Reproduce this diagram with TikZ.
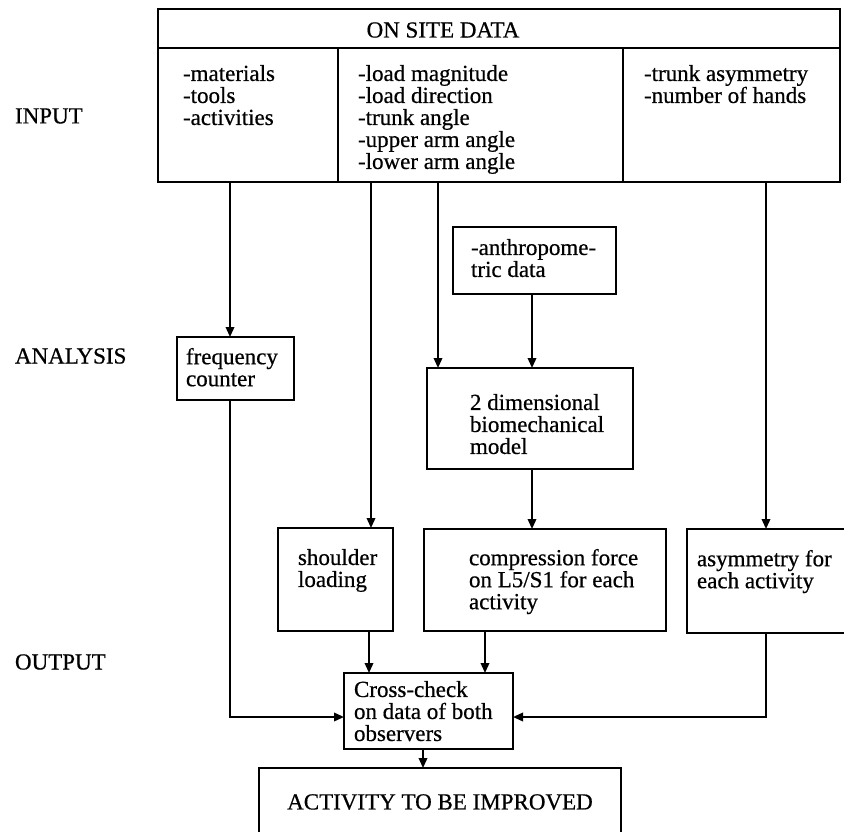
\documentclass[tikz,border=0pt]{standalone}
\usepackage{fontspec}
\setmainfont{Liberation Serif}[FakeBold=0.6]
\usetikzlibrary{arrows.meta}
\begin{document}
\begin{tikzpicture}[x=1pt,y=-1pt,
  every node/.style={font=\fontsize{23}{22}\selectfont, inner sep=0pt, outer sep=0pt},
  box/.style={draw, line width=1.9pt, rectangle, anchor=north west},
  txt/.style={anchor=north west, align=left},
  lbl/.style={anchor=west},
  arr/.style={line width=1.9pt, -{Triangle[length=10pt,width=8.5pt]}}]
\useasboundingbox (0,0) rectangle (844,832);

% lanes of the vertical connectors
\coordinate (xa) at (230,0);
\coordinate (xb) at (371,0);
\coordinate (xc) at (438,0);
\coordinate (xd) at (766,0);
\coordinate (xe) at (532,0);
\coordinate (xf) at (369,0);
\coordinate (xg) at (485,0);
\coordinate (xh) at (423,0);
\coordinate (ya) at (0,717);

% on-site data block
\node[box, minimum width=682pt, minimum height=39pt] (hdr) at (158,9) {};
\node[box, minimum width=180pt, minimum height=134pt] (c1) at (158,48) {};
\node[box, minimum width=285pt, minimum height=134pt] (c2) at (338,48) {};
\node[box, minimum width=217pt, minimum height=134pt] (c3) at (623,48) {};
\node (hdrt) at (443,30) {ON SITE DATA};
\node[txt] (c1t) at (183,65) {-materials\\-tools\\-activities};
\node[txt] (c2t) at (358,65) {-load magnitude\\-load direction\\-trunk angle\\-upper arm angle\\-lower arm angle};
\node[txt] (c3t) at (644,65) {-trunk asymmetry\\-number of hands};

% row labels
\node[lbl] (lin) at (15,116) {INPUT};
\node[lbl] (lan) at (15,356) {ANALYSIS};
\node[lbl] (lout) at (15,662) {OUTPUT};

% analysis
\node[box, minimum width=163pt, minimum height=67pt] (anth) at (453,227) {};
\node[txt] (antht) at (471,239) {-anthropome-\\tric data};
\node[box, minimum width=117pt, minimum height=63pt] (freq) at (177,337) {};
\node[txt] (freqt) at (186,348) {frequency\\counter};
\node[box, minimum width=206pt, minimum height=101pt] (model) at (427,368) {};
\node[txt] (modelt) at (470,394) {2 dimensional\\biomechanical\\model};

% output
\node[box, minimum width=115pt, minimum height=103pt] (shoulder) at (278,528) {};
\node[txt] (shouldert) at (298,549) {shoulder\\loading};
\node[box, minimum width=242pt, minimum height=102pt] (comp) at (424,529) {};
\node[txt] (compt) at (469,549) {compression force\\on L5/S1 for each\\activity};
\node[box, minimum width=161pt, minimum height=104pt] (asym) at (687,529) {};
\node[txt] (asymt) at (697,550) {asymmetry for\\each activity};
\node[box, minimum width=169pt, minimum height=76pt] (cross) at (344,673) {};
\node[txt] (crosst) at (354,681) {Cross-check\\on data of both\\observers};
\node[box, minimum width=362pt, minimum height=80pt] (act) at (259,768) {};
\node (actt) at (440,802) {ACTIVITY TO BE IMPROVED};

% connectors
\draw[arr] (c1.south -| xa) -- (freq.north -| xa);
\draw[arr] (c2.south -| xb) -- (shoulder.north -| xb);
\draw[arr] (c2.south -| xc) -- (model.north -| xc);
\draw[arr] (c3.south -| xd) -- (asym.north -| xd);
\draw[arr] (anth.south -| xe) -- (model.north -| xe);
\draw[arr] (model.south -| xe) -- (comp.north -| xe);
\draw[arr] (freq.south -| xa) |- (cross.west |- ya);
\draw[arr] (shoulder.south -| xf) -- (cross.north -| xf);
\draw[arr] (comp.south -| xg) -- (cross.north -| xg);
\draw[arr] (asym.south -| xd) |- (cross.east |- ya);
\draw[arr] (cross.south -| xh) -- (act.north -| xh);
\end{tikzpicture}
\end{document}
